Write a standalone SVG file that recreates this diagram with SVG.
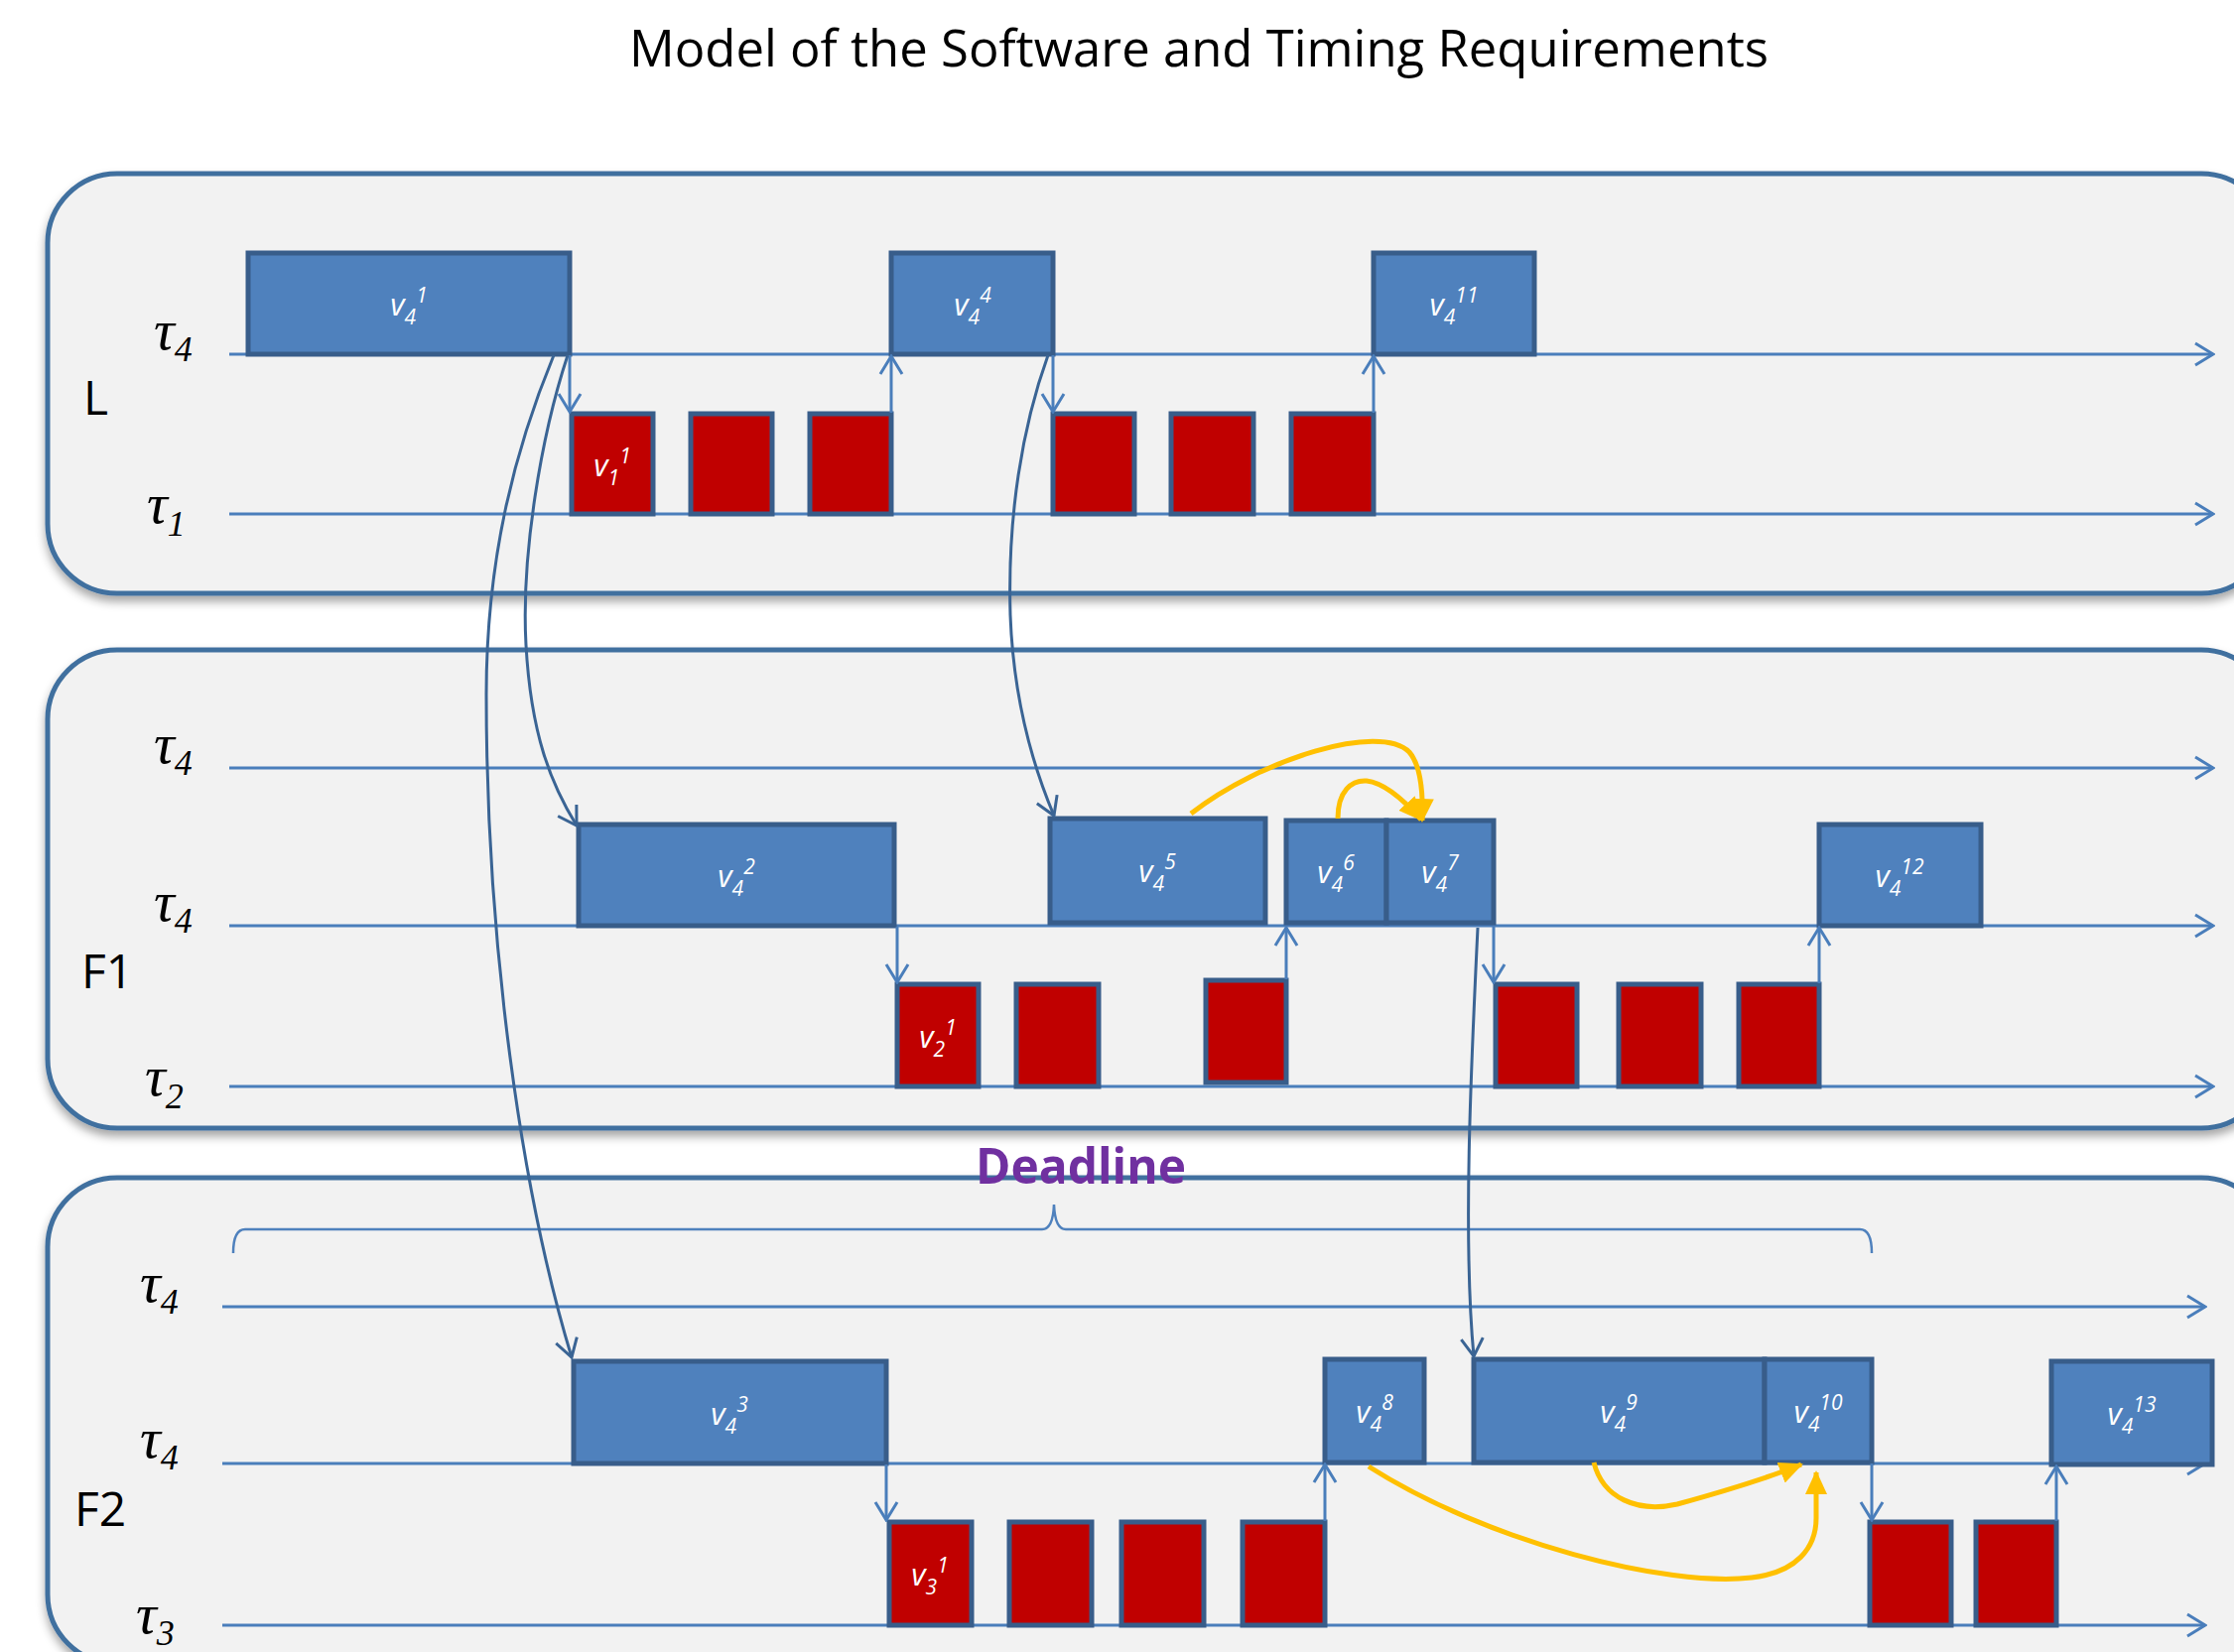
<svg xmlns="http://www.w3.org/2000/svg" width="2251" height="1665" viewBox="0 0 2251 1665">
<defs>
<style>
.panel{fill:#f2f2f2;stroke:#41709f;stroke-width:5}
.blue{fill:#4f81bd;stroke:#385d8a;stroke-width:5}
.red{fill:#c00000;stroke:#385d8a;stroke-width:5}
.axis{stroke:#4a7ebb;stroke-width:3;fill:none}
.link{stroke:#4a7ebb;stroke-width:3;fill:none;marker-end:url(#openArr)}
.long{stroke:#3a6494;stroke-width:3;fill:none;marker-end:url(#openDark)}
.yel{stroke:#ffc000;stroke-width:5;fill:none;marker-end:url(#yelArr)}
.lbl{font-family:"Open Sans","Liberation Sans",sans-serif;font-style:italic;font-size:31px;fill:#ffffff;text-anchor:middle}
.ss{font-size:21px}
.tau{font-family:"Liberation Serif","DejaVu Serif",serif;font-style:italic;font-size:58px;fill:#000}
.tsub{font-size:36px}
.grp{font-family:"Open Sans","Liberation Sans",sans-serif;font-size:48px;fill:#000}
</style>
<marker id="openArr" viewBox="0 0 22 26" refX="20" refY="13" markerWidth="22" markerHeight="26" markerUnits="userSpaceOnUse" orient="auto">
<path d="M2,2 L20,13 L2,24" fill="none" stroke="#4a7ebb" stroke-width="3"/>
</marker>
<marker id="openDark" viewBox="0 0 22 26" refX="20" refY="13" markerWidth="22" markerHeight="26" markerUnits="userSpaceOnUse" orient="auto">
<path d="M2,2 L20,13 L2,24" fill="none" stroke="#3a6494" stroke-width="3"/>
</marker>
<marker id="yelArr" viewBox="0 0 24 24" refX="22" refY="12" markerWidth="24" markerHeight="24" markerUnits="userSpaceOnUse" orient="auto">
<path d="M0,1 L24,12 L0,23 Z" fill="#ffc000"/>
</marker>
<filter id="shadow" x="-5%" y="-5%" width="110%" height="115%">
<feDropShadow dx="0" dy="6" stdDeviation="5" flood-color="#000" flood-opacity="0.35"/>
</filter>
</defs>
<rect x="0" y="0" width="2251" height="1665" fill="#ffffff"/>
<text x="1208" y="67" font-family="Open Sans, Liberation Sans, sans-serif" font-size="52" textLength="1148" lengthAdjust="spacingAndGlyphs" text-anchor="middle" fill="#000">Model of the Software and Timing Requirements</text>

<g id="panel-L">
<rect class="panel" x="48" y="175" width="2240" height="423" rx="70" ry="70" filter="url(#shadow)"/>
<text class="grp" x="84" y="418">L</text>
<text class="tau" x="155" y="352">τ<tspan class="tsub" dy="12">4</tspan></text>
<text class="tau" x="148" y="527">τ<tspan class="tsub" dy="13">1</tspan></text>
<line class="axis" x1="231" y1="357" x2="2230" y2="357" marker-end="url(#openArr)"/>
<line class="axis" x1="231" y1="518" x2="2230" y2="518" marker-end="url(#openArr)"/>
</g>
<g id="panel-F1">
<rect class="panel" x="48" y="655" width="2240" height="482" rx="70" ry="70" filter="url(#shadow)"/>
<text class="grp" x="82" y="996">F1</text>
<text class="tau" x="155" y="769">τ<tspan class="tsub" dy="12">4</tspan></text>
<text class="tau" x="155" y="928">τ<tspan class="tsub" dy="12">4</tspan></text>
<text class="tau" x="146" y="1104">τ<tspan class="tsub" dy="13">2</tspan></text>
<line class="axis" x1="231" y1="774" x2="2230" y2="774" marker-end="url(#openArr)"/>
<line class="axis" x1="231" y1="933" x2="2230" y2="933" marker-end="url(#openArr)"/>
<line class="axis" x1="231" y1="1095" x2="2230" y2="1095" marker-end="url(#openArr)"/>
</g>
<g id="panel-F2">
<rect class="panel" x="48" y="1187" width="2240" height="490" rx="70" ry="70" filter="url(#shadow)"/>
<text class="grp" x="75" y="1538">F2</text>
<text class="tau" x="141" y="1312">τ<tspan class="tsub" dy="12">4</tspan></text>
<text class="tau" x="141" y="1469">τ<tspan class="tsub" dy="12">4</tspan></text>
<text class="tau" x="137" y="1646">τ<tspan class="tsub" dy="12">3</tspan></text>
<line class="axis" x1="224" y1="1317" x2="2222" y2="1317" marker-end="url(#openArr)"/>
<line class="axis" x1="224" y1="1475" x2="2222" y2="1475" marker-end="url(#openArr)"/>
<line class="axis" x1="224" y1="1638" x2="2222" y2="1638" marker-end="url(#openArr)"/>
</g>

<g id="deadline">
<path d="M235,1263 Q235,1239 247,1239 L1050,1239 Q1061,1239 1062,1214 Q1063,1239 1074,1239 L1874,1239 Q1886,1239 1886,1263" fill="none" stroke="#4f81bd" stroke-width="2.5"/>
<text x="1089" y="1193" font-family="Open Sans, Liberation Sans, sans-serif" font-weight="bold" font-size="50" textLength="212" lengthAdjust="spacingAndGlyphs" text-anchor="middle" fill="#7030a0">Deadline</text>
</g>

<!-- L nodes -->
<g id="L-v4-1"><rect class="blue" x="250" y="255" width="324" height="102"/><text class="lbl" x="412" y="318">v<tspan class="ss" dy="9">4</tspan><tspan class="ss" dy="-22">1</tspan></text></g>
<g id="L-v4-4"><rect class="blue" x="898" y="255" width="163" height="102"/><text class="lbl" x="980" y="318">v<tspan class="ss" dy="9">4</tspan><tspan class="ss" dy="-22">4</tspan></text></g>
<g id="L-v4-11"><rect class="blue" x="1384" y="255" width="162" height="102"/><text class="lbl" x="1465" y="318">v<tspan class="ss" dy="9">4</tspan><tspan class="ss" dy="-22">11</tspan></text></g>
<g id="L-v1-1"><rect class="red" x="576" y="417" width="82" height="101"/><text class="lbl" x="617" y="480">v<tspan class="ss" dy="9">1</tspan><tspan class="ss" dy="-22">1</tspan></text></g>
<g id="L-r2"><rect class="red" x="696" y="417" width="82" height="101"/></g>
<g id="L-r3"><rect class="red" x="816" y="417" width="82" height="101"/></g>
<g id="L-r4"><rect class="red" x="1061" y="417" width="82" height="101"/></g>
<g id="L-r5"><rect class="red" x="1180" y="417" width="83" height="101"/></g>
<g id="L-r6"><rect class="red" x="1301" y="417" width="83" height="101"/></g>

<!-- F1 nodes -->
<g id="F1-v4-2"><rect class="blue" x="583" y="831" width="318" height="102"/><text class="lbl" x="742" y="894">v<tspan class="ss" dy="9">4</tspan><tspan class="ss" dy="-22">2</tspan></text></g>
<g id="F1-v4-5"><rect class="blue" x="1058" y="825" width="217" height="105"/><text class="lbl" x="1166" y="889">v<tspan class="ss" dy="9">4</tspan><tspan class="ss" dy="-22">5</tspan></text></g>
<g id="F1-v4-6"><rect class="blue" x="1296" y="827" width="101" height="103"/><text class="lbl" x="1346" y="890">v<tspan class="ss" dy="9">4</tspan><tspan class="ss" dy="-22">6</tspan></text></g>
<g id="F1-v4-7"><rect class="blue" x="1397" y="827" width="108" height="103"/><text class="lbl" x="1451" y="890">v<tspan class="ss" dy="9">4</tspan><tspan class="ss" dy="-22">7</tspan></text></g>
<g id="F1-v4-12"><rect class="blue" x="1833" y="831" width="163" height="102"/><text class="lbl" x="1914" y="894">v<tspan class="ss" dy="9">4</tspan><tspan class="ss" dy="-22">12</tspan></text></g>
<g id="F1-v2-1"><rect class="red" x="904" y="992" width="82" height="103"/><text class="lbl" x="945" y="1056">v<tspan class="ss" dy="9">2</tspan><tspan class="ss" dy="-22">1</tspan></text></g>
<g id="F1-r2"><rect class="red" x="1024" y="992" width="83" height="103"/></g>
<g id="F1-r3"><rect class="red" x="1215" y="988" width="81" height="103"/></g>
<g id="F1-r4"><rect class="red" x="1507" y="992" width="82" height="103"/></g>
<g id="F1-r5"><rect class="red" x="1631" y="992" width="83" height="103"/></g>
<g id="F1-r6"><rect class="red" x="1752" y="992" width="81" height="103"/></g>

<!-- F2 nodes -->
<g id="F2-v4-3"><rect class="blue" x="578" y="1372" width="315" height="103"/><text class="lbl" x="735" y="1436">v<tspan class="ss" dy="9">4</tspan><tspan class="ss" dy="-22">3</tspan></text></g>
<g id="F2-v4-8"><rect class="blue" x="1335" y="1370" width="100" height="104"/><text class="lbl" x="1385" y="1434">v<tspan class="ss" dy="9">4</tspan><tspan class="ss" dy="-22">8</tspan></text></g>
<g id="F2-v4-9"><rect class="blue" x="1485" y="1370" width="293" height="104"/><text class="lbl" x="1631" y="1434">v<tspan class="ss" dy="9">4</tspan><tspan class="ss" dy="-22">9</tspan></text></g>
<g id="F2-v4-10"><rect class="blue" x="1778" y="1370" width="108" height="104"/><text class="lbl" x="1832" y="1434">v<tspan class="ss" dy="9">4</tspan><tspan class="ss" dy="-22">10</tspan></text></g>
<g id="F2-v4-13"><rect class="blue" x="2067" y="1372" width="162" height="104"/><text class="lbl" x="2148" y="1436">v<tspan class="ss" dy="9">4</tspan><tspan class="ss" dy="-22">13</tspan></text></g>
<g id="F2-v3-1"><rect class="red" x="896" y="1534" width="83" height="104"/><text class="lbl" x="937" y="1598">v<tspan class="ss" dy="9">3</tspan><tspan class="ss" dy="-22">1</tspan></text></g>
<g id="F2-r2"><rect class="red" x="1017" y="1534" width="83" height="104"/></g>
<g id="F2-r3"><rect class="red" x="1130" y="1534" width="83" height="104"/></g>
<g id="F2-r4"><rect class="red" x="1252" y="1534" width="83" height="104"/></g>
<g id="F2-r5"><rect class="red" x="1884" y="1534" width="82" height="104"/></g>
<g id="F2-r6"><rect class="red" x="1991" y="1534" width="81" height="104"/></g>

<g id="connectors">
<line class="link" x1="574" y1="358" x2="574" y2="415"/>
<line class="link" x1="898" y1="416" x2="898" y2="359"/>
<line class="link" x1="1061" y1="358" x2="1061" y2="415"/>
<line class="link" x1="1384" y1="416" x2="1384" y2="359"/>
<line class="link" x1="904" y1="934" x2="904" y2="990"/>
<line class="link" x1="1296" y1="987" x2="1296" y2="935"/>
<line class="link" x1="1505" y1="934" x2="1505" y2="990"/>
<line class="link" x1="1833" y1="991" x2="1833" y2="935"/>
<line class="link" x1="893" y1="1476" x2="893" y2="1532"/>
<line class="link" x1="1335" y1="1533" x2="1335" y2="1476"/>
<line class="link" x1="1886" y1="1475" x2="1886" y2="1532"/>
<line class="link" x1="2072" y1="1533" x2="2072" y2="1478"/>
<path class="long" d="M558,358 C520,450 490,560 490,700 C490,950 525,1200 576,1368"/>
<path class="long" d="M572,358 C545,440 525,560 530,650 C535,740 555,790 581,832"/>
<path class="long" d="M1056,358 C1030,430 1015,520 1018,620 C1021,700 1040,770 1062,822"/>
<path class="long" d="M1489,935 C1482,1080 1474,1250 1485,1367"/>
<path class="yel" d="M1200,820 C1270,765 1390,728 1420,758 C1432,772 1434,800 1433,827"/>
<path class="yel" d="M1348,825 C1348,797 1362,786 1377,787 C1395,789 1416,808 1432,826"/>
<path class="yel" d="M1379,1478 C1500,1555 1680,1600 1765,1590 C1810,1585 1830,1560 1830,1530 L1830,1484"/>
<path class="yel" d="M1606,1474 C1615,1510 1650,1525 1690,1516 C1730,1505 1780,1490 1815,1476"/>
</g>
</svg>
